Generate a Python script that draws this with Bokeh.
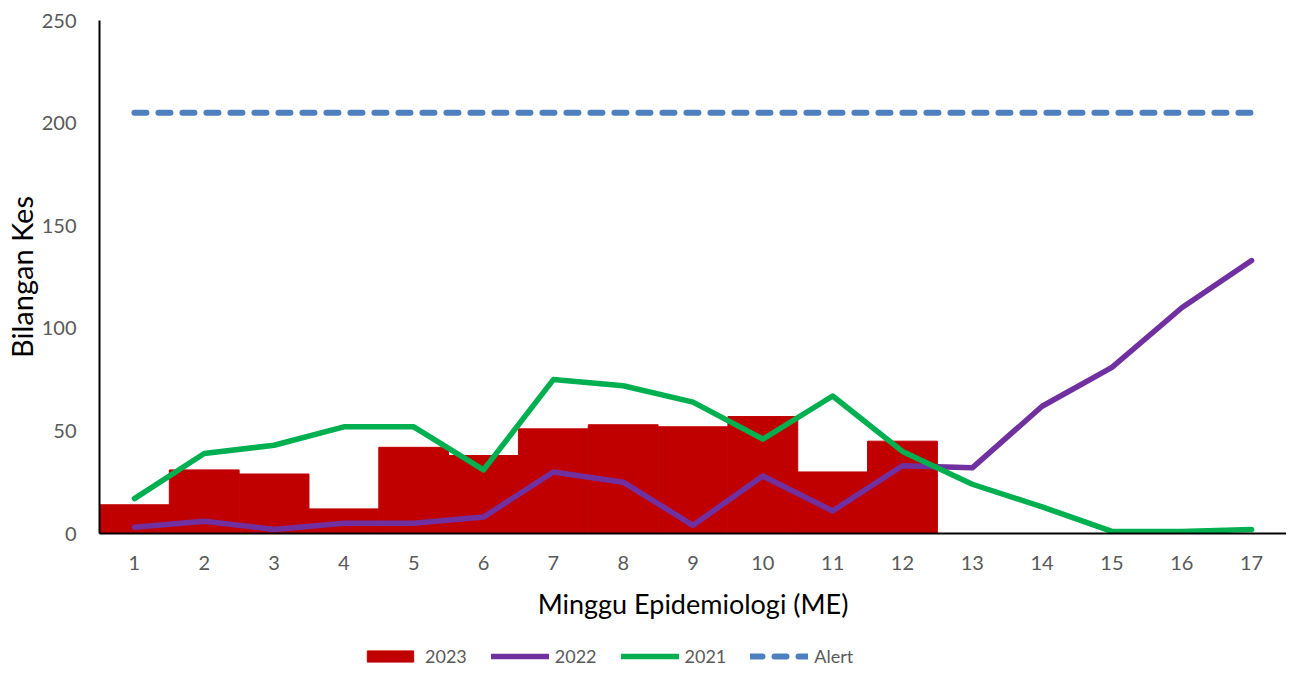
from bokeh.plotting import figure
from bokeh.layouts import column
from bokeh.models import Legend, LegendItem, FixedTicker, Range1d
from bokeh.embed import file_html
from bokeh.resources import INLINE

weeks = list(range(1, 18))
cases_2023 = [14, 31, 29, 12, 42, 38, 51, 53, 52, 57, 30, 45]
cases_2022 = [3, 6, 2, 5, 5, 8, 30, 25, 4, 28, 11, 33, 32, 62, 81, 110, 133]
cases_2021 = [17, 39, 43, 52, 52, 31, 75, 72, 64, 46, 67, 40, 24, 13, 1, 1, 2]
alert = [205] * 17
y_ticks = [0, 50, 100, 150, 200, 250]

FONT = "Lato"
C23, C22, C21, CAL = "#C00000", "#7030A0", "#00B050", "#4E80BF"

p = figure(frame_width=1187, frame_height=513, output_backend="svg", toolbar_location=None,
           x_range=Range1d(0.5, 17.5), y_range=Range1d(0, 250),
           min_border_left=96, min_border_top=20, min_border_right=0,
           min_border_bottom=106)
p.outline_line_color = None
p.xgrid.visible = False
p.ygrid.visible = False

p.vbar(x=weeks[:len(cases_2023)], top=cases_2023, width=1.0,
       fill_color=C23, line_color=C23)
p.line(weeks, cases_2022, line_color=C22, line_width=5.5,
       line_cap="round", line_join="round")
p.line(weeks, cases_2021, line_color=C21, line_width=5.5,
       line_cap="round", line_join="round")
p.line(weeks, alert, line_color=CAL, line_width=6,
       line_dash="12 12", line_cap="round")

for ax in (p.xaxis[0], p.yaxis[0]):
    ax.major_tick_line_color = None
    ax.minor_tick_line_color = None
    ax.axis_line_color = "black"
    ax.axis_line_width = 2
    ax.major_label_text_font = FONT
    ax.major_label_text_font_size = "20px"
    ax.major_label_text_color = "#595959"
    ax.axis_label_text_font = FONT
    ax.axis_label_text_font_style = "normal"
    ax.axis_label_text_color = "black"

p.xaxis.ticker = FixedTicker(ticks=weeks)
p.yaxis.ticker = FixedTicker(ticks=y_ticks)
p.xaxis.axis_label = "Minggu Epidemiologi (ME)"
p.yaxis.axis_label = "Bilangan Kes"
p.xaxis.axis_label_text_font_size = "27px"
p.yaxis.axis_label_text_font_size = "29px"
p.xaxis.major_label_standoff = 16
p.xaxis.axis_label_standoff = 14
p.yaxis.major_label_standoff = 17
p.yaxis.axis_label_standoff = 0

# legend in a strip below the chart
lg = figure(width=1283, height=34, output_backend="svg", toolbar_location=None,
            x_axis_location=None, y_axis_location=None, min_border=0,
            x_range=Range1d(0, 1), y_range=Range1d(0, 1))
lg.outline_line_color = None
lg.xgrid.visible = False
lg.ygrid.visible = False
l23 = lg.vbar(x=[-10], top=[-5], width=1.0, fill_color=C23, line_color=C23)
l22 = lg.line(x=[-10, -9], y=[-5, -5], line_color=C22, line_width=5.5, line_cap="round")
l21 = lg.line(x=[-10, -9], y=[-5, -5], line_color=C21, line_width=5.5, line_cap="round")
lal = lg.line(x=[-10, -9], y=[-5, -5], line_color=CAL, line_width=6, line_dash="12 12",
              line_cap="round")

legend = Legend(items=[
    LegendItem(label="2023", renderers=[l23]),
    LegendItem(label="2022", renderers=[l22]),
    LegendItem(label="2021", renderers=[l21]),
    LegendItem(label="Alert", renderers=[lal]),
], orientation="horizontal", location=(262, 6))
legend.glyph_width = 58
legend.glyph_height = 14
legend.label_standoff = 6
legend.spacing = 24
legend.label_text_font = FONT
legend.label_text_font_size = "18px"
legend.label_text_color = "#595959"
legend.border_line_color = None
legend.background_fill_alpha = 0
legend.margin = 0
legend.padding = 4
lg.add_layout(legend, "center")

layout = column(p, lg, spacing=0)
open("out.html", "w").write(file_html(layout, INLINE))
